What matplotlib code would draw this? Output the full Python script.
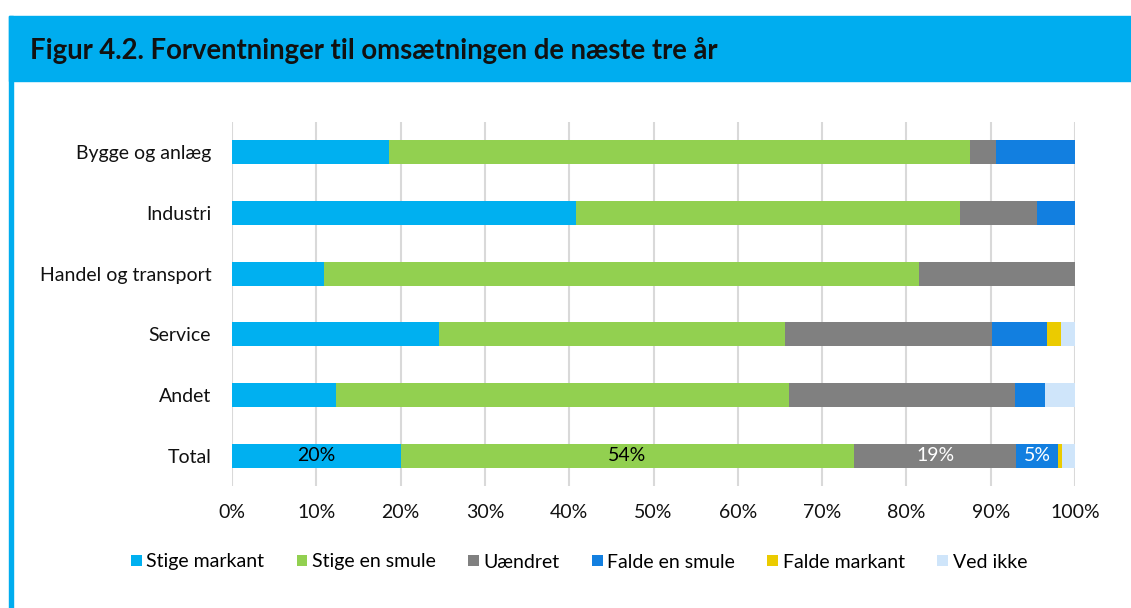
import matplotlib.pyplot as plt
from matplotlib.patches import Rectangle
import numpy as np

plt.rcParams['font.family'] = ['Lato', 'DejaVu Sans']

# data (shares in %)
categories = ["Bygge og anlæg", "Industri", "Handel og transport", "Service", "Andet", "Total"]
series = ["Stige markant", "Stige en smule", "Uændret", "Falde en smule", "Falde markant", "Ved ikke"]
stige_markant = [18.6, 40.8, 10.9, 24.6, 12.3, 20.0]
stige_smule = [68.9, 45.6, 70.6, 41.0, 53.8, 53.8]
uaendret = [3.1, 9.1, 18.5, 24.6, 26.8, 19.2]
falde_smule = [9.4, 4.5, 0.0, 6.5, 3.5, 5.0]
falde_markant = [0.0, 0.0, 0.0, 1.6, 0.0, 0.5]
ved_ikke = [0.0, 0.0, 0.0, 1.7, 3.6, 1.5]
total_labels = ["20%", "54%", "19%", "5%", "", ""]

colors = ["#00B0F0", "#92D050", "#808080", "#127FE0", "#EBCB00", "#CFE5FA"]
label_colors = ["black", "black", "white", "white", "white", "white"]

fig = plt.figure(figsize=(11.31, 6.08), dpi=100)

# header band and left border
fig.patches.append(Rectangle((9 / 1131, 1 - 81 / 608), 1, 65 / 608, transform=fig.transFigure,
                             color="#00ADEF", zorder=0))
fig.patches.append(Rectangle((9 / 1131, 0), 4 / 1131, 1 - 16 / 608, transform=fig.transFigure,
                             color="#00ADEF", zorder=0))
fig.text(30 / 1131, 1 - 50 / 608, "Figur 4.2. Forventninger til omsætningen de næste tre år",
         fontsize=19.8, fontweight="bold", va="center", ha="left", color="#111111")

ax = fig.add_axes([232 / 1131, 1 - 486 / 608, 843 / 1131, 364 / 608])

data = [stige_markant, stige_smule, uaendret, falde_smule, falde_markant, ved_ikke]
y = np.arange(len(categories))
left = np.zeros(len(categories))
for i, vals in enumerate(data):
    vals = np.array(vals)
    ax.barh(y, vals, left=left, height=0.4, color=colors[i], label=series[i], zorder=3)
    # labels only on Total
    if total_labels[i]:
        ax.text(left[-1] + vals[-1] / 2, y[-1], total_labels[i], ha="center", va="center",
                fontsize=14, color=label_colors[i], zorder=4)
    left += vals

ax.set_xlim(0, 100)
ax.set_ylim(len(categories) - 0.5, -0.5)
ax.set_yticks(y)
ax.set_yticklabels(categories)
ax.set_xticks(np.arange(0, 101, 10))
ax.set_xticklabels([f"{v}%" for v in range(0, 101, 10)])
ax.xaxis.grid(True, color="#D9D9D9", linewidth=1.5, zorder=0)
ax.tick_params(axis="both", length=0, labelsize=14, colors="#111111")
ax.tick_params(axis="y", pad=15)
ax.tick_params(axis="x", pad=13)
for s in ax.spines.values():
    s.set_visible(False)

fig.legend(loc="center", bbox_to_anchor=(579 / 1131, 1 - 562 / 608), ncol=6, frameon=False,
           fontsize=14, handlelength=0.55, handleheight=0.55, handletextpad=0.25,
           columnspacing=1.65)

fig.savefig("out.png", dpi=100)
